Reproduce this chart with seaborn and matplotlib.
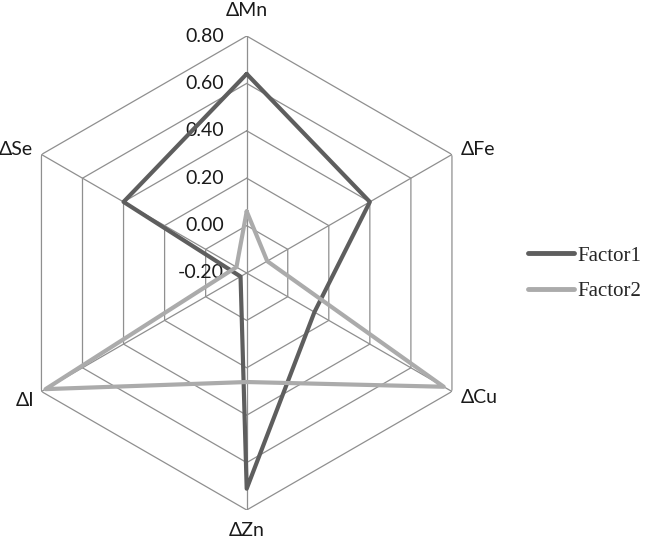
import numpy as np
import pandas as pd
import matplotlib
matplotlib.use("Agg")
import matplotlib.pyplot as plt
import seaborn as sns

# ---- data ----
elements = ["ΔMn", "ΔFe", "ΔCu", "ΔZn", "ΔI", "ΔSe"]
factor1 = [0.64, 0.40, 0.13, 0.71, -0.17, 0.40]
factor2 = [0.06, -0.10, 0.76, 0.26, 0.78, -0.15]
series_names = ["Factor1", "Factor2"]
ring_levels = [0.0, 0.2, 0.4, 0.6, 0.8]
tick_levels = [-0.2, 0.0, 0.2, 0.4, 0.6, 0.8]
tick_labels = ["-0.20", "0.00", "0.20", "0.40", "0.60", "0.80"]

sns.set_theme(style="white")
plt.rcParams["font.family"] = ["Lato", "DejaVu Sans"]

n = len(elements)
angles = np.linspace(0, 2 * np.pi, n, endpoint=False)
angles_closed = np.append(angles, 2 * np.pi)

rows = []
for name, vals in zip(series_names, [factor1, factor2]):
    vc = list(vals) + [vals[0]]
    for i, (t, v) in enumerate(zip(angles_closed, vc)):
        rows.append({"factor": name, "theta": t, "value": v, "idx": i})
df = pd.DataFrame(rows)

W, H = 646, 549
fig = plt.figure(figsize=(W / 100, H / 100), dpi=100)
cx, cy, R = 246.7, 273.0, 237.0
ax = fig.add_axes([(cx - R) / W, (H - cy - R) / H, 2 * R / W, 2 * R / H],
                  projection="polar")
ax.set_theta_zero_location("N")
ax.set_theta_direction(-1)
ax.set_facecolor("none")
ax.grid(False)
ax.spines["polar"].set_visible(False)

grid_color = "#8f8f8f"
for lvl in ring_levels:
    ax.plot(angles_closed, [lvl] * len(angles_closed), color=grid_color,
            lw=0.9, zorder=1)
for t in angles:
    ax.plot([t, t], [tick_levels[0], ring_levels[-1]], color=grid_color,
            lw=0.9, zorder=1)

palette = {"Factor1": "#5e5e5e", "Factor2": "#ababab"}
sns.lineplot(data=df, x="theta", y="value", hue="factor", palette=palette,
             sort=False, estimator=None, units="factor", linewidth=3.0,
             ax=ax, zorder=3, legend=True)

ax.set_ylim(tick_levels[0], ring_levels[-1])
ax.set_xticks([])
ax.set_yticks([])
ax.set_xlabel("")
ax.set_ylabel("")

# radial tick labels along the ΔMn axis
for v, lab in zip(tick_levels, tick_labels):
    ax.annotate(lab, xy=(0, v), xytext=(-23, 0), textcoords="offset pixels",
                ha="right", va="center", fontsize=14, color="#1a1a1a",
                zorder=2, annotation_clip=False)

# category labels
label_style = [
    ("center", (0, 26)),
    ("left", (8.5, 5)),
    ("left", (8.5, -6)),
    ("center", (0, -20)),
    ("right", (-7, -9)),
    ("right", (-8.5, 5)),
]
for t, lab, (ha, off) in zip(angles, elements, label_style):
    ax.annotate(lab, xy=(t, ring_levels[-1]), xytext=off,
                textcoords="offset pixels", ha=ha, va="center",
                fontsize=14, color="#1a1a1a", annotation_clip=False)

handles, labels = ax.get_legend_handles_labels()
if ax.get_legend() is not None:
    ax.get_legend().remove()
leg = fig.legend(handles, labels, loc="center left",
                 bbox_to_anchor=(528 / W, 1 - 273.5 / H),
                 frameon=False, borderpad=0, borderaxespad=0,
                 handlelength=2.2, handletextpad=0.15, labelspacing=0.75,
                 prop={"family": "Liberation Serif", "size": 15})
for h in leg.legend_handles:
    h.set_linewidth(3.5)
    h.set_solid_capstyle("round")

fig.savefig("out.png", dpi=100, facecolor="white")
